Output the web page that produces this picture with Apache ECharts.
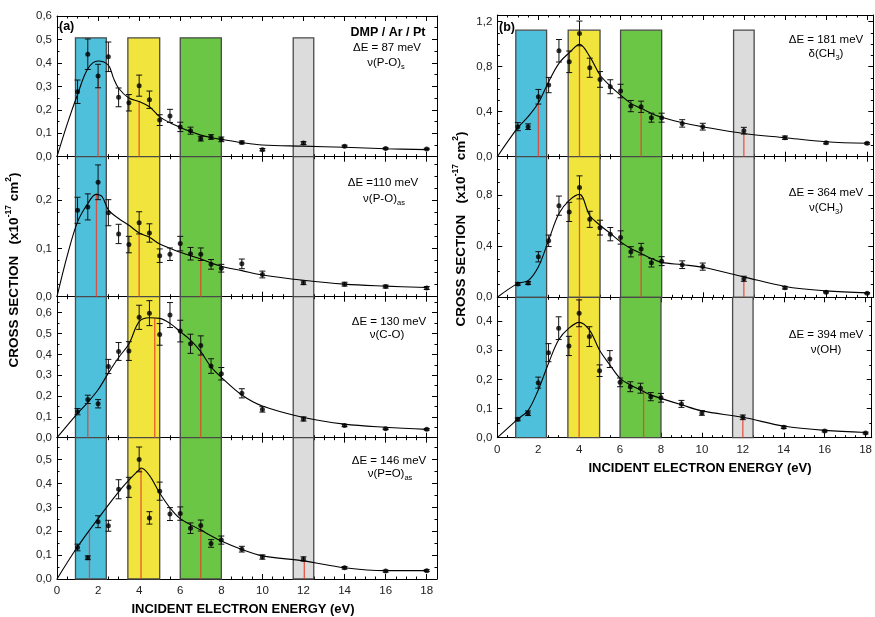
<!DOCTYPE html>
<html><head><meta charset="utf-8">
<script src="https://cdn.jsdelivr.net/npm/echarts@6/dist/echarts.min.js"></script>
<style>html,body{margin:0;padding:0;background:#fff}#c{width:875px;height:617px}</style>
</head><body><div id="c"></div>
<script>
// ---------- DATA ----------
const energies = [1,1.5,2,2.5,3,3.5,4,4.5,5,5.5,6,6.5,7,7.5,8,9,10,12,14,16,18];
const xTicks = [0,2,4,6,8,10,12,14,16,18];
const bandStart = [0.9, 3.45, 6, 11.5];
const bandEnd   = [2.4, 5.0, 8, 12.5];

// (a) ΔE = 87 meV  ν(P-O)s
const a1Val = [0.277,0.437,0.344,0.426,0.253,0.23,0.303,0.243,0.156,0.174,0.127,0.111,0.077,0.084,0.074,0.061,0.03,0.058,0.045,0.035,0.033];
const a1Err = [0.05,0.065,0.05,0.063,0.04,0.035,0.045,0.037,0.023,0.028,0.02,0.015,0.01,0.01,0.01,0.006,0.005,0.006,0.004,0.003,0.003];
const a1CurveX = [0,0.5,1,1.5,2,2.5,2.75,3,3.5,4,4.5,5,5.5,6,6.5,7,7.5,8,9,10,12,14,16,18];
const a1CurveY = [0,0.14,0.265,0.375,0.408,0.39,0.335,0.292,0.25,0.235,0.213,0.17,0.145,0.125,0.107,0.092,0.082,0.074,0.06,0.05,0.045,0.04,0.034,0.03];
const a1RedX = [2,4];
const a1RedH = [0.34,0.235];

// (a) ΔE = 110 meV  ν(P-O)as
const a2Val = [0.179,0.186,0.237,0.174,0.13,0.108,0.153,0.132,0.085,0.088,0.11,0.089,0.088,0.067,0.059,0.068,0.046,0.029,0.026,0.021,0.018];
const a2Err = [0.027,0.027,0.036,0.027,0.02,0.017,0.023,0.019,0.014,0.013,0.015,0.013,0.013,0.01,0.008,0.01,0.007,0.004,0.004,0.003,0.003];
const a2CurveX = [0,0.5,1,1.5,1.9,2.2,2.5,3,3.5,4,4.5,5,6,7,8,9,10,12,14,16,18];
const a2CurveY = [0,0.085,0.155,0.193,0.212,0.207,0.18,0.162,0.148,0.132,0.123,0.109,0.092,0.078,0.063,0.054,0.045,0.034,0.026,0.022,0.019];
const a2RedX = [1.92,4,7];
const a2RedH = [0.214,0.131,0.083];

// (a) ΔE = 130 meV  ν(C-O)
const a3Val = [0.125,0.184,0.163,0.342,0.414,0.416,0.578,0.598,0.496,0.589,0.512,0.451,0.443,0.344,0.307,0.213,0.136,0.09,0.058,0.043,0.04];
const a3Err = [0.015,0.02,0.02,0.034,0.043,0.045,0.058,0.06,0.052,0.06,0.052,0.046,0.046,0.035,0.03,0.022,0.013,0.01,0.005,0.004,0.004];
const a3CurveX = [0,1,1.5,2,2.5,3,3.5,4,4.5,5,5.5,6,6.5,7,7.5,8,9,10,12,14,16,18];
const a3CurveY = [0,0.117,0.17,0.23,0.31,0.385,0.45,0.557,0.576,0.573,0.549,0.509,0.469,0.413,0.34,0.29,0.205,0.152,0.097,0.065,0.05,0.04];
const a3RedX = [1.5,4.76,7];
const a3RedH = [0.181,0.573,0.413];

// (a) ΔE = 146 meV  ν(P=O)as
const a4Val = [0.132,0.089,0.24,0.223,0.376,0.384,0.501,0.256,0.368,0.272,0.274,0.213,0.224,0.149,0.163,0.125,0.092,0.084,0.047,0.033,0.035];
const a4Err = [0.014,0.008,0.025,0.023,0.04,0.042,0.052,0.026,0.038,0.027,0.028,0.022,0.023,0.016,0.017,0.012,0.009,0.009,0.005,0.004,0.004];
const a4CurveX = [0,1,2,3,3.5,4,4.1,4.5,5,5.5,6,7,8,9,10,12,14,16,18];
const a4CurveY = [0,0.135,0.253,0.365,0.414,0.458,0.465,0.434,0.36,0.298,0.253,0.205,0.159,0.124,0.097,0.076,0.047,0.035,0.035];
const a4RedX = [1.58,4.09,7,12.04];
const a4RedH = [0.198,0.462,0.218,0.075];

// (b) ΔE = 181 meV  δ(CH3)
const b1Val = [0.267,0.267,0.533,0.637,0.942,0.844,1.096,0.791,0.687,0.622,0.584,0.45,0.444,0.347,0.347,0.296,0.267,0.231,0.169,0.124,0.119];
const b1Err = [0.036,0.025,0.065,0.068,0.1,0.096,0.11,0.085,0.07,0.062,0.06,0.05,0.05,0.04,0.04,0.033,0.03,0.03,0.015,0.01,0.008];
const b1CurveX = [0,1,1.5,2,2.5,3,3.5,4,4.5,5,5.5,6,6.5,7,7.5,8,9,10,12,14,16,18];
const b1CurveY = [0,0.258,0.356,0.48,0.667,0.83,0.924,0.999,0.89,0.726,0.628,0.548,0.474,0.43,0.385,0.35,0.302,0.267,0.207,0.169,0.133,0.119];
const b1RedX = [2,4,7,12];
const b1RedH = [0.504,0.993,0.43,0.213];

// (b) ΔE = 364 meV  ν(CH3)
const b2Val = [0.104,0.112,0.317,0.442,0.717,0.668,0.86,0.61,0.545,0.494,0.468,0.356,0.377,0.27,0.283,0.255,0.24,0.145,0.075,0.04,0.032];
const b2Err = [0.01,0.012,0.04,0.045,0.075,0.075,0.09,0.063,0.058,0.052,0.052,0.04,0.045,0.033,0.035,0.03,0.028,0.02,0.01,0.006,0.005];
const b2CurveX = [0,1,1.5,2,2.5,3,3.5,4,4.5,5,5.5,6,6.5,7,7.5,8,9,10,12,14,16,18];
const b2CurveY = [0,0.109,0.13,0.239,0.447,0.655,0.758,0.805,0.64,0.564,0.5,0.434,0.382,0.343,0.304,0.273,0.255,0.235,0.16,0.085,0.05,0.035];
const b2RedX = [4,7,12];
const b2RedH = [0.805,0.371,0.145];

// (b) ΔE = 394 meV  ν(OH)
const b3Val = [0.063,0.084,0.189,0.292,0.376,0.315,0.427,0.347,0.23,0.27,0.19,0.175,0.17,0.141,0.137,0.116,0.085,0.07,0.036,0.023,0.016];
const b3Err = [0.005,0.008,0.019,0.031,0.039,0.033,0.046,0.034,0.02,0.029,0.015,0.017,0.017,0.014,0.015,0.012,0.008,0.008,0.004,0.003,0.003];
const b3CurveX = [0,1,1.5,2,2.5,3,3.5,4,4.5,5,5.5,6,6.5,7,7.5,8,9,10,12,14,16,18];
const b3CurveY = [0,0.064,0.093,0.164,0.255,0.336,0.376,0.396,0.37,0.3,0.25,0.204,0.181,0.164,0.147,0.135,0.113,0.092,0.07,0.04,0.025,0.018];
const b3RedX = [4,7.15,12];
const b3RedH = [0.48,0.164,0.07];

// ---------- LAYOUT / STYLE ----------
const FONT = '"Liberation Sans", Arial, sans-serif';
const bandColors = ['#4fc0dc', '#f1e43c', '#6cc645', '#dcdcdc'];
const panels = [
  {left:57, width:380, top:16,    bottom:156.7, ymax:0.6,   major:0.1, minor:0.05,  xmax:18.5, xl:false, bandTop:0.507, val:a1Val, err:a1Err, cx:a1CurveX, cy:a1CurveY, rx:a1RedX, rh:a1RedH},
  {left:57, width:380, top:156.7, bottom:296.7, ymax:0.29,  major:0.1, minor:0.025, xmax:18.5, xl:false, bandTop:null,  val:a2Val, err:a2Err, cx:a2CurveX, cy:a2CurveY, rx:a2RedX, rh:a2RedH},
  {left:57, width:380, top:296.7, bottom:437.7, ymax:0.677, major:0.1, minor:0.05,  xmax:18.5, xl:false, bandTop:null,  val:a3Val, err:a3Err, cx:a3CurveX, cy:a3CurveY, rx:a3RedX, rh:a3RedH},
  {left:57, width:380, top:437.7, bottom:579,   ymax:0.592, major:0.1, minor:0.05,  xmax:18.5, xl:true,  bandTop:null,  val:a4Val, err:a4Err, cx:a4CurveX, cy:a4CurveY, rx:a4RedX, rh:a4RedH},
  {left:497.3, width:376, top:15,    bottom:156.7, ymax:1.26,  major:0.4, minor:0.1,  xmax:18.3, xl:false, bandTop:1.125, val:b1Val, err:b1Err, cx:b1CurveX, cy:b1CurveY, rx:b1RedX, rh:b1RedH},
  {left:497.3, width:376, top:156.7, bottom:297.3, ymax:1.10,  major:0.4, minor:0.1,  xmax:18.3, xl:false, bandTop:null,  val:b2Val, err:b2Err, cx:b2CurveX, cy:b2CurveY, rx:b2RedX, rh:b2RedH},
  {left:497.3, width:376, top:297.3, bottom:437.7, ymax:0.482, major:0.1, minor:0.05, xmax:18.3, xl:true,  bandTop:null,  val:b3Val, err:b3Err, cx:b3CurveX, cy:b3CurveY, rx:b3RedX, rh:b3RedH}
];

function fmt(interval) {
  return function (v) {
    const r = v / interval;
    if (Math.abs(r - Math.round(r)) > 1e-6) return '';
    return v.toFixed(1).replace('.', ',');
  };
}
function fmtX(v) { return xTicks.indexOf(v) >= 0 ? String(v) : ''; }

const grids = [], xAxes = [], yAxes = [], series = [];
panels.forEach((p, i) => {
  grids.push({left:p.left, top:p.top, width:p.width, height:p.bottom - p.top, containLabel:false, show:false});
  const lineOn = {show:true, onZero:false, lineStyle:{color:'#000', width:1}};
  const lineOff = {show:false, onZero:false};
  const base = {type:'value', gridIndex:i, min:0, max:p.xmax, splitLine:{show:false}};
  xAxes.push(Object.assign({}, base, {position:'bottom', interval:2, axisLine:lineOn,
    axisTick:{inside:true, length:5, lineStyle:{color:'#000', width:1}},
    axisLabel:{show:p.xl, formatter:fmtX, margin:6, color:'#222', fontSize:11.5, fontFamily:FONT}}));
  xAxes.push(Object.assign({}, base, {position:'bottom', interval:0.5, axisLine:lineOff,
    axisTick:{inside:true, length:2.5, lineStyle:{color:'#000', width:1}}, axisLabel:{show:false}}));
  xAxes.push(Object.assign({}, base, {position:'top', interval:2, axisLine:lineOn,
    axisTick:{inside:true, length:5, lineStyle:{color:'#000', width:1}}, axisLabel:{show:false}}));
  xAxes.push(Object.assign({}, base, {position:'top', interval:0.5, axisLine:lineOff,
    axisTick:{inside:true, length:2.5, lineStyle:{color:'#000', width:1}}, axisLabel:{show:false}}));
  const ybase = {type:'value', gridIndex:i, min:0, max:p.ymax, splitLine:{show:false}};
  yAxes.push(Object.assign({}, ybase, {position:'left', interval:p.major, axisLine:lineOn,
    axisTick:{inside:true, length:5, lineStyle:{color:'#000', width:1}},
    axisLabel:{formatter:fmt(p.major), margin:5, color:'#222', fontSize:11.5, fontFamily:FONT}}));
  yAxes.push(Object.assign({}, ybase, {position:'left', interval:p.minor, axisLine:lineOff,
    axisTick:{inside:true, length:2.5, lineStyle:{color:'#000', width:1}}, axisLabel:{show:false}}));
  yAxes.push(Object.assign({}, ybase, {position:'right', interval:p.major, axisLine:lineOn,
    axisTick:{inside:true, length:5, lineStyle:{color:'#000', width:1}}, axisLabel:{show:false}}));
  yAxes.push(Object.assign({}, ybase, {position:'right', interval:p.minor, axisLine:lineOff,
    axisTick:{inside:true, length:2.5, lineStyle:{color:'#000', width:1}}, axisLabel:{show:false}}));

  const xi = i * 4, yi = i * 4;
  const top = p.bandTop == null ? p.ymax : p.bandTop;
  series.push({
    type:'custom', xAxisIndex:xi, yAxisIndex:yi, silent:true, z:1, clip:false,
    data: bandStart.map((s, k) => [s, bandEnd[k], k]),
    encode:{x:[0,1]},
    renderItem: (params, api) => {
      const p0 = api.coord([api.value(0), 0]);
      const p1 = api.coord([api.value(1), top]);
      return {type:'rect', shape:{x:p0[0], y:p1[1], width:p1[0]-p0[0], height:p0[1]-p1[1]},
        style:{fill:bandColors[api.value(2)], stroke:'#4a4a4a', lineWidth:1.3}};
    }
  });
  series.push({
    type:'custom', xAxisIndex:xi, yAxisIndex:yi, silent:true, z:2,
    data: p.rx.map((x, k) => [x, p.rh[k]]),
    renderItem: (params, api) => {
      const a = api.coord([api.value(0), 0]);
      const b = api.coord([api.value(0), api.value(1)]);
      return {type:'line', shape:{x1:a[0], y1:a[1], x2:b[0], y2:b[1]},
        style:{stroke:'#e8402a', lineWidth:1.3, opacity:0.85}};
    }
  });
  series.push({
    type:'line', xAxisIndex:xi, yAxisIndex:yi, z:3, silent:true,
    data: p.cx.map((x, k) => [x, p.cy[k]]),
    showSymbol:false, smooth:0.35,
    lineStyle:{color:'#000', width:1.1}
  });
  series.push({
    type:'custom', xAxisIndex:xi, yAxisIndex:yi, silent:true, z:4,
    data: energies.map((x, k) => [x, p.val[k] - p.err[k], p.val[k] + p.err[k]]),
    encode:{x:0, y:[1,2]},
    renderItem: (params, api) => {
      const lo = api.coord([api.value(0), api.value(1)]);
      const hi = api.coord([api.value(0), api.value(2)]);
      const w = 3;
      const st = {stroke:'#111', lineWidth:1};
      return {type:'group', children:[
        {type:'line', shape:{x1:lo[0], y1:lo[1], x2:hi[0], y2:hi[1]}, style:st},
        {type:'line', shape:{x1:lo[0]-w, y1:lo[1], x2:lo[0]+w, y2:lo[1]}, style:st},
        {type:'line', shape:{x1:hi[0]-w, y1:hi[1], x2:hi[0]+w, y2:hi[1]}, style:st}
      ]};
    }
  });
  series.push({
    type:'scatter', xAxisIndex:xi, yAxisIndex:yi, z:5, silent:true,
    data: energies.map((x, k) => [x, p.val[k]]),
    symbol:'circle', symbolSize:5, itemStyle:{color:'#000'}
  });
});

const richBase = {
  n:{fontSize:11.5, fontFamily:FONT, fill:'#000', lineHeight:14},
  s:{fontSize:7.5, fontFamily:FONT, fill:'#000', lineHeight:8, padding:[8,0,0,0]}
};
const richBold = {
  b:{fontSize:12.5, fontWeight:'bold', fontFamily:FONT, fill:'#000', lineHeight:15},
  sup:{fontSize:8, fontWeight:'bold', fontFamily:FONT, fill:'#000', lineHeight:8, padding:[0,0,9,0]}
};
const richTitle = {
  b:{fontSize:13.5, fontWeight:'bold', fontFamily:FONT, fill:'#000', lineHeight:16},
  sup:{fontSize:8.5, fontWeight:'bold', fontFamily:FONT, fill:'#000', lineHeight:8, padding:[0,0,10,0]}
};
function txt(x, y, text, rich, align) {
  return {type:'text', x:x, y:y, z:100, silent:true,
    style:{text:text, rich:rich, align:align || 'center', verticalAlign:'middle'}};
}
const yTitle = '{b|CROSS SECTION   (x10}{sup|-17}{b| cm}{sup|2}{b|)}';
const graphics = [
  txt(59, 27, '{b|(a)}', richBold, 'left'),
  txt(499, 28, '{b|(b)}', richBold, 'left'),
  txt(388, 33, '{b|DMP / Ar / Pt}', richBold),
  txt(387, 48, '{n|ΔE = 87 meV}', richBase),
  txt(386, 63, '{n|ν(P-O)}{s|s}', richBase),
  txt(383, 183, '{n|ΔE =110 meV}', richBase),
  txt(384, 199, '{n|ν(P-O)}{s|as}', richBase),
  txt(389, 322, '{n|ΔE = 130 meV}', richBase),
  txt(387, 335, '{n|ν(C-O)}', richBase),
  txt(389, 461, '{n|ΔE = 146 meV}', richBase),
  txt(390, 474, '{n|ν(P=O)}{s|as}', richBase),
  txt(826, 40, '{n|ΔE = 181 meV}', richBase),
  txt(826, 54, '{n|δ(CH}{s|3}{n|)}', richBase),
  txt(826, 193, '{n|ΔE = 364 meV}', richBase),
  txt(826, 208, '{n|ν(CH}{s|3}{n|)}', richBase),
  txt(826, 335, '{n|ΔE = 394 meV}', richBase),
  txt(826, 350, '{n|ν(OH)}', richBase),
  txt(243, 609, '{b|INCIDENT ELECTRON ENERGY (eV)}', {b:Object.assign({}, richBold.b, {fontSize:13})}),
  txt(700, 468, '{b|INCIDENT ELECTRON ENERGY (eV)}', {b:Object.assign({}, richBold.b, {fontSize:13})}),
  Object.assign(txt(14, 270, yTitle, richTitle), {rotation:Math.PI/2}),
  Object.assign(txt(461, 229, yTitle, richTitle), {rotation:Math.PI/2})
];

const chart = echarts.init(document.getElementById('c'), null, {renderer:'canvas'});
chart.setOption({
  animation:false,
  backgroundColor:'#fff',
  grid:grids, xAxis:xAxes, yAxis:yAxes, series:series, graphic:graphics
});
</script></body></html>
